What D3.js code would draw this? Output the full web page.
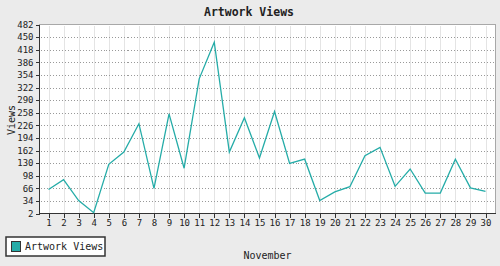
<!DOCTYPE html>
<html lang="en">
<head>
<meta charset="UTF-8">
<title>Artwork Views</title>
<script src="https://d3js.org/d3.v7.min.js"></script>
<style>
  html, body { margin: 0; padding: 0; background: #ebebeb; }
  svg { display: block; }
  text { font-family: "DejaVu Sans Mono", monospace; fill: #222; }
</style>
</head>
<body>
<svg id="chart" width="500" height="266"></svg>
<script>
// November days and views per day
var days = d3.range(1, 31);
var views = [63, 88, 35, 4, 127, 158, 230, 66, 255, 117,
             344, 437, 158, 245, 143, 261, 129, 140, 35, 57,
             70, 149, 170, 71, 115, 54, 54, 140, 67, 58];
var yTicks = d3.range(2, 483, 32);
var seriesName = "Artwork Views";

var svg = d3.select("#chart"),
    width = +svg.attr("width"),
    height = +svg.attr("height");

// plot area (note: "top" is taken by window.top)
var plotLeft = 39.5, plotRight = 495.5, plotTop = 24.5, plotBottom = 213.5;

var x = d3.scalePoint()
    .domain(days)
    .range([48.5, 485.5]);

var y = d3.scaleLinear()
    .domain([2, 482])
    .range([plotBottom, plotTop]);

svg.append("rect")
    .attr("width", width).attr("height", height)
    .attr("fill", "#ebebeb");

svg.append("rect")
    .attr("x", plotLeft).attr("y", plotTop)
    .attr("width", plotRight - plotLeft).attr("height", plotBottom - plotTop)
    .attr("fill", "#fff")
    .attr("stroke", "#a8a8a8")
    .attr("shape-rendering", "crispEdges");

// vertical grid
svg.append("g")
    .selectAll("line")
    .data(days)
    .enter().append("line")
    .attr("x1", d => Math.round(x(d)) + 0.5)
    .attr("x2", d => Math.round(x(d)) + 0.5)
    .attr("y1", plotTop + 1).attr("y2", plotBottom)
    .attr("stroke", "#e4e4e4")
    .attr("shape-rendering", "crispEdges");

// horizontal dotted grid
svg.append("g")
    .selectAll("line")
    .data(yTicks.slice(1, -1))
    .enter().append("line")
    .attr("x1", plotLeft + 1).attr("x2", plotRight - 1)
    .attr("y1", d => Math.round(y(d)) + 0.5)
    .attr("y2", d => Math.round(y(d)) + 0.5)
    .attr("stroke", "#999")
    .attr("stroke-dasharray", "1,2")
    .attr("shape-rendering", "crispEdges");

// y axis
var yAxis = d3.axisLeft(y)
    .tickValues(yTicks)
    .tickSize(4)
    .tickPadding(2)
    .tickSizeOuter(0);

var gy = svg.append("g")
    .attr("transform", "translate(" + plotLeft + ",0)")
    .call(yAxis);
gy.selectAll("text")
    .style("font-family", "'DejaVu Sans Mono', monospace")
    .style("font-size", "9px")
    .style("fill", "#222");

// x axis
var xAxis = d3.axisBottom(x)
    .tickSize(4)
    .tickPadding(2)
    .tickSizeOuter(0);

var gx = svg.append("g")
    .attr("transform", "translate(0," + plotBottom + ")")
    .call(xAxis);
gx.selectAll("text")
    .style("font-family", "'DejaVu Sans Mono', monospace")
    .style("font-size", "9px")
    .style("fill", "#222");

[gx, gy].forEach(function (g) {
    g.select(".domain").remove();
    g.selectAll("line").attr("stroke", "#333").attr("shape-rendering", "crispEdges");
});

// axis lines
svg.append("line")
    .attr("x1", plotLeft).attr("x2", plotLeft)
    .attr("y1", plotTop).attr("y2", plotBottom)
    .attr("stroke", "#333").attr("shape-rendering", "crispEdges");
svg.append("line")
    .attr("x1", plotLeft).attr("x2", plotRight)
    .attr("y1", plotBottom).attr("y2", plotBottom)
    .attr("stroke", "#333").attr("shape-rendering", "crispEdges");

// series line
var line = d3.line()
    .x((d, i) => x(days[i]))
    .y(d => y(d));

svg.append("path")
    .datum(views)
    .attr("d", line)
    .attr("fill", "none")
    .attr("stroke", "#25aca8")
    .attr("stroke-width", 1.3);

// titles
svg.append("text")
    .attr("x", 249).attr("y", 16)
    .attr("text-anchor", "middle")
    .style("font-size", "11.5px")
    .style("font-weight", "bold")
    .text("Artwork Views");

svg.append("text")
    .attr("transform", "translate(15,120) rotate(-90)")
    .attr("text-anchor", "middle")
    .style("font-size", "10px")
    .text("Views");

svg.append("text")
    .attr("x", (plotLeft + plotRight) / 2).attr("y", 258.5)
    .attr("text-anchor", "middle")
    .style("font-size", "10px")
    .text("November");

// legend
var legend = svg.append("g");
legend.append("rect")
    .attr("x", 6).attr("y", 237)
    .attr("width", 99).attr("height", 19)
    .attr("fill", "#fff")
    .attr("stroke", "#333")
    .attr("stroke-width", 1.5);
legend.append("rect")
    .attr("x", 11.5).attr("y", 241.5)
    .attr("width", 9).attr("height", 10)
    .attr("fill", "#25aca8")
    .attr("stroke", "#333");
legend.append("text")
    .attr("x", 25).attr("y", 250)
    .style("font-size", "10px")
    .text(seriesName);
</script>
</body>
</html>
